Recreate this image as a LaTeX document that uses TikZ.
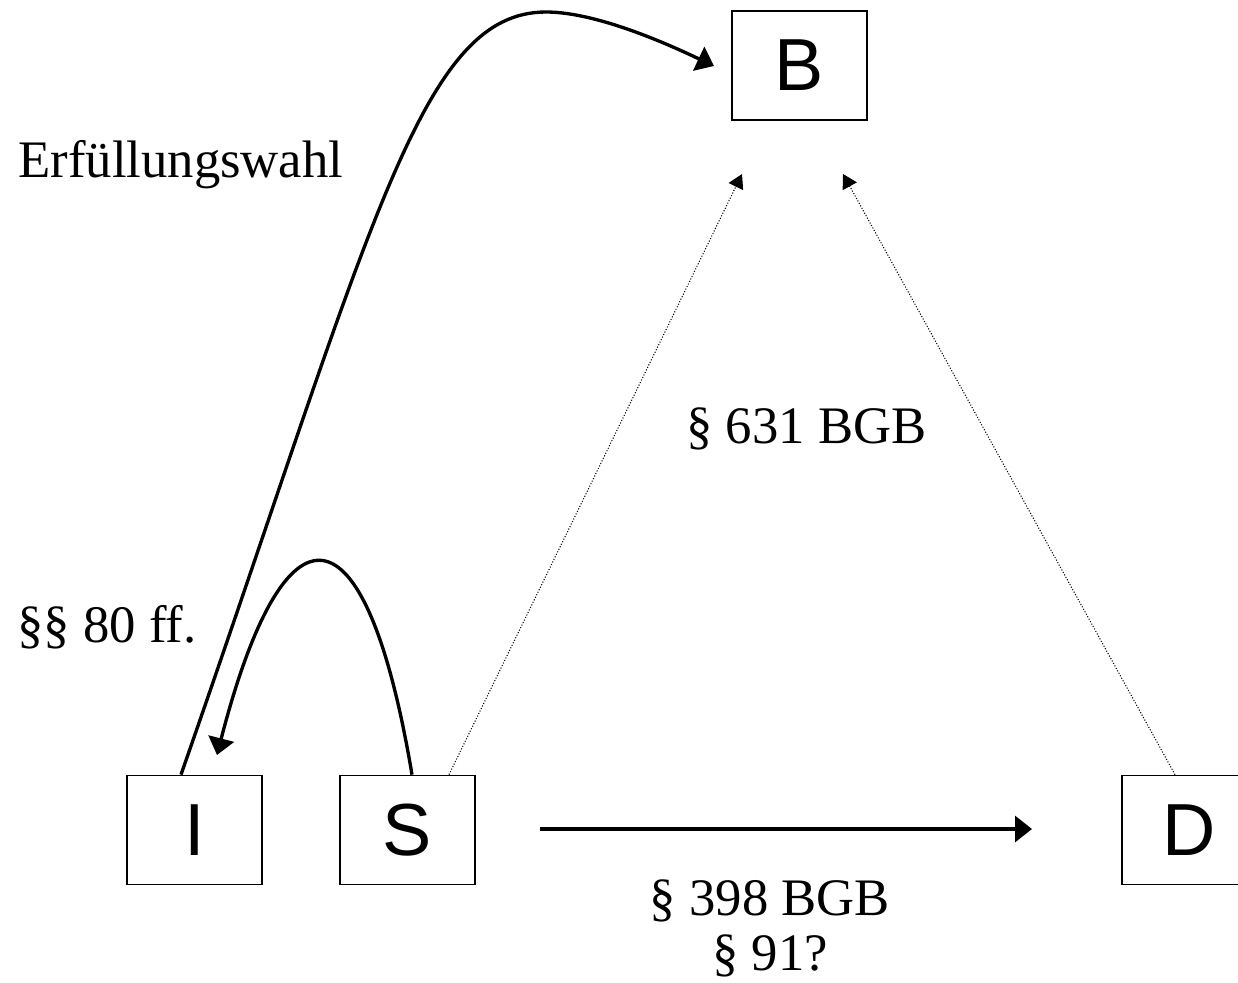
\documentclass[tikz,border=0pt]{standalone}
\usepackage{fontspec}
\setmainfont{Liberation Serif}
\newfontfamily\boxfont{Liberation Sans}
\usepackage{tikz}
\usetikzlibrary{arrows.meta,positioning}
\tikzset{
  party/.style={draw, line width=1pt, minimum width=2.7cm, minimum height=2.18cm,
                inner sep=0pt, font=\boxfont\fontsize{42}{50}\selectfont},
  norm/.style={font=\fontsize{30}{31}\selectfont, inner sep=0pt},
  claim/.style={line width=1.9pt, -{Triangle[length=0.34cm,width=0.52cm]}},
  hint/.style={line width=0.6pt, dash pattern=on 0.6pt off 1pt,
               -{Triangle[length=0.28cm,width=0.32cm]}},
}

\begin{document}
\begin{tikzpicture}[x=0.02cm,y=-0.02cm]
	\useasboundingbox (0,0) rectangle (1238,983);
	% parties
	\node[party] (B) at (799.5,65.5) {B};
	\node[party] (I) at (194.5,830) {I};
	\node[party] (S) at (407.5,830) {S};
	\node[party] (D) at (1189.5,830) {D};
	% free arrow ends
	\coordinate (tipB) at (714,66);
	\coordinate (tipI) at (217,755);
	\coordinate (tipBl) at (742,174);
	\coordinate (tipBr) at (843,174);
	\coordinate (assL) at (540,829);
	\coordinate (assR) at (1032,829);
	% arrows
	\draw[claim] ([xshift=-0.27cm]I.north) .. controls (373,225) and (420,12) .. (546,12)
	      .. controls (600,12) and (678,49) .. (tipB); % Erfuellungswahl
	\draw[claim] ([xshift=0.09cm]S.north) .. controls (365,495) and (284,495) .. (tipI);
	\draw[hint] ([xshift=0.83cm]S.north) -- (tipBl);
	\draw[hint] ([xshift=-0.29cm]D.north) -- (tipBr);
	\draw[claim] (assL) -- (assR);
	% labels
	\node[norm, anchor=base west] (wahl) at (18,178) {Erfüllungswahl};
	\node[norm, anchor=base west] (stift) at (17,642) {§§ 80 ff.};
	\node[norm, anchor=base] (miete) at (806.5,443) {§ 631 BGB};
	\node[norm, anchor=base, align=center] (abtr) at (770,970) {§ 398 BGB\\§ 91?};
\end{tikzpicture}
\end{document}
